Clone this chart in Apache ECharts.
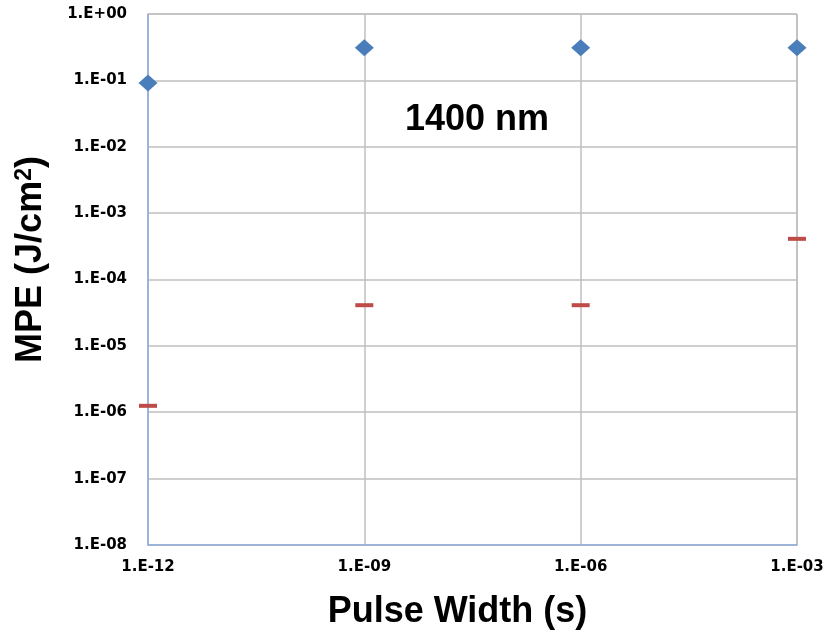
<!DOCTYPE html>
<html><head><meta charset="utf-8">
<script src="https://cdn.jsdelivr.net/npm/echarts@6/dist/echarts.min.js"></script>
<style>html,body{margin:0;padding:0;background:#fff}#c{width:837px;height:631px}</style>
</head><body><div id="c"></div>
<script>
const pulseWidths = [1e-12, 1e-9, 1e-6, 1e-3];
const mpeDiamond = [0.091, 0.31, 0.31, 0.31];
const mpeDash = [1.25e-6, 4.1e-5, 4.1e-5, 4.1e-4];
const titleText = '1400 nm';

function fmt(v) {
  const e = Math.round(Math.log10(v));
  const s = e < 0 ? '-' : '+';
  const a = Math.abs(e);
  return '1.E' + s + (a < 10 ? '0' + a : a);
}
const chart = echarts.init(document.getElementById('c'));
chart.setOption({
  animation: false,
  grid: { left: 148, right: 40, top: 14, bottom: 86, containLabel: false, outerBoundsMode: 'none', show: false },
  graphic: [{ type: 'text', left: 405, top: 102, style: { text: titleText, font: 'bold 36px Liberation Sans, Arial', fill: '#000' } }],
  xAxis: {
    type: 'log', logBase: 10, min: 1e-12, max: 1e-3, interval: 3,
    name: 'Pulse Width (s)', nameLocation: 'middle', nameGap: 49,
    nameTextStyle: { fontSize: 36, fontWeight: 'bold', color: '#000', fontFamily: 'Liberation Sans', padding: [0, 30, 0, 0] },
    axisLine: { show: true, lineStyle: { color: '#8faadc', width: 1.5 } },
    axisTick: { show: false },
    minorTick: { show: false },
    splitLine: { show: true, lineStyle: { color: '#bfbfbf', width: 1.5 } },
    axisLabel: { formatter: fmt, fontSize: 15, fontWeight: 'bold', color: '#000', fontFamily: 'DejaVu Sans', margin: 15 }
  },
  yAxis: {
    type: 'log', logBase: 10, min: 1e-8, max: 1, interval: 1,
    name: '{a|MPE (J/cm}{s|2}{a|)}', nameLocation: 'middle', nameGap: 98,
    nameTextStyle: { color: '#000', padding: [0, 0, 0, 40], rich: {
      a: { fontSize: 36, fontWeight: 'bold', fontFamily: 'Liberation Sans', color: '#000' },
      s: { fontSize: 23, fontWeight: 'bold', fontFamily: 'Liberation Sans', color: '#000', verticalAlign: 'top', padding: [0, 0, 14, 0] }
    } },
    axisLine: { show: true, lineStyle: { color: '#8faadc', width: 1.5 } },
    axisTick: { show: false },
    splitLine: { show: true, lineStyle: { color: '#bfbfbf', width: 1.5 } },
    axisLabel: { formatter: fmt, fontSize: 15, fontWeight: 'bold', color: '#000', fontFamily: 'DejaVu Sans', margin: 21 }
  },
  series: [
    { type: 'scatter', symbol: 'diamond', symbolSize: [19, 17], itemStyle: { color: '#4a7ebb', opacity: 1 },
      data: pulseWidths.map((x, i) => [x, mpeDiamond[i]]) },
    { type: 'scatter', symbol: 'rect', symbolSize: [18, 4], itemStyle: { color: '#be4b48', opacity: 1 },
      data: pulseWidths.map((x, i) => [x, mpeDash[i]]) },
    { type: 'line', silent: true, symbol: 'none', lineStyle: { color: '#bfbfbf', width: 1.5 },
      data: [[1e-12, 1], [1e-3, 1]] }
  ]
});
</script></body></html>
